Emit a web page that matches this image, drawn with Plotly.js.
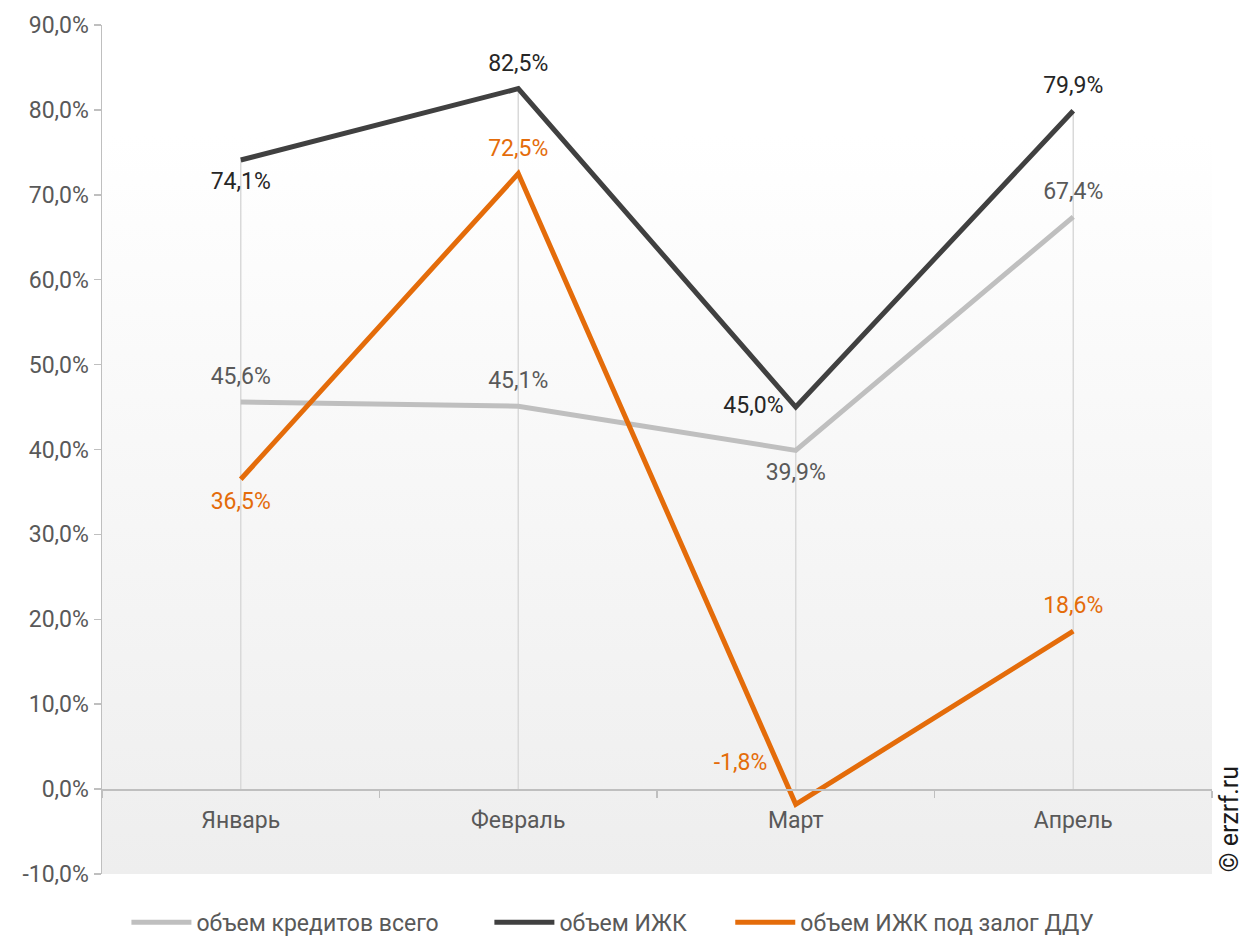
<!DOCTYPE html>
<html>
<head>
<meta charset="utf-8">
<script src="https://cdn.plot.ly/plotly-3.0.1.min.js"></script>
<style>
html,body{margin:0;padding:0;background:#fff;}
#chart{width:1248px;height:938px;}
</style>
</head>
<body>
<div id="chart"></div>
<script>
// ---- data ----
const months = ["Январь", "Февраль", "Март", "Апрель"];
const seriesNames = ["объем кредитов всего", "объем ИЖК", "объем ИЖК под залог ДДУ"];
const totalLoans = [45.6, 45.1, 39.9, 67.4];
const izhk = [74.1, 82.5, 45.0, 79.9];
const izhkDdu = [36.5, 72.5, -1.8, 18.6];
const yTickVals = [-10, 0, 10, 20, 30, 40, 50, 60, 70, 80, 90];

const fmt = v => v.toFixed(1).replace(".", ",") + "%";
const yTickText = yTickVals.map(fmt);

// label positions per point (style, not data)
const posTotal = ["top center", "top center", "bottom center", "top center"];
const posIzhk = ["bottom center", "top center", "middle left", "top center"];
const posDdu = ["bottom center", "top center", "top left", "top center"];

// drop lines from highest value of each month down to the axis
const dropX = [], dropY = [];
months.forEach((m, i) => {
  const mx = Math.max(totalLoans[i], izhk[i], izhkDdu[i]);
  dropX.push(m, m, null);
  dropY.push(mx, 0, null);
});

const grad = 'data:image/svg+xml;utf8,' + encodeURIComponent(
  '<svg xmlns="http://www.w3.org/2000/svg" width="100" height="100" preserveAspectRatio="none">' +
  '<defs><linearGradient id="g" x1="0" y1="0" x2="0" y2="1">' +
  '<stop offset="0" stop-color="#ffffff"/><stop offset="0.13" stop-color="#ffffff"/>' +
  '<stop offset="1" stop-color="#eeeeee"/></linearGradient></defs>' +
  '<rect width="100" height="100" fill="url(#g)"/></svg>');

function lineTrace(name, y, color, labelColor, pos, msize) {
  return {
    type: "scatter",
    mode: "lines+markers+text",
    name: name,
    x: months,
    y: y,
    text: y.map(fmt),
    line: {color: color, width: 5},
    marker: {size: msize, opacity: 0, color: color},
    texttemplate: "%{text}",
    textposition: pos,
    textfont: {family: "Roboto", size: 23, color: labelColor},
    cliponaxis: false,
    showlegend: false,
    hoverinfo: "skip"
  };
}
function legendTrace(name, color, legendId) {
  return {
    type: "scatter", mode: "lines", name: name, x: [months[0]], y: [null],
    line: {color: color, width: 5}, showlegend: true, legend: legendId, hoverinfo: "skip"
  };
}

const colors = ["#bfbfbf", "#404040", "#e46c0a"];
const data = [
  {
    type: "scatter", mode: "lines", x: dropX, y: dropY,
    line: {color: "#d9d9d9", width: 1.5}, showlegend: false, hoverinfo: "skip"
  },
  lineTrace(seriesNames[0], totalLoans, colors[0], "#595959", posTotal, 18),
  lineTrace(seriesNames[1], izhk, colors[1], "#262626", posIzhk, 18),
  lineTrace(seriesNames[2], izhkDdu, colors[2], "#e46c0a", posDdu, [18, 18, 44, 18]),
  legendTrace(seriesNames[0], colors[0], "legend"),
  legendTrace(seriesNames[1], colors[1], "legend2"),
  legendTrace(seriesNames[2], colors[2], "legend3")
];

function legendAt(xFrac) {
  return {
    orientation: "h", x: xFrac, xanchor: "left", y: -0.057, yanchor: "middle",
    font: {family: "Roboto", size: 23, color: "#595959"},
    itemwidth: 60, bgcolor: "rgba(0,0,0,0)"
  };
}

const layout = {
  width: 1248, height: 938,
  margin: {l: 102, r: 36, t: 25, b: 64, autoexpand: false},
  paper_bgcolor: "#ffffff",
  plot_bgcolor: "rgba(0,0,0,0)",
  font: {family: "Roboto", size: 23, color: "#595959"},
  images: [{
    source: grad, xref: "paper", yref: "paper", x: 0, y: 1,
    sizex: 1, sizey: 1, sizing: "stretch", xanchor: "left", yanchor: "top", layer: "below"
  }],
  xaxis: {
    type: "category", range: [-0.5, 3.5],
    anchor: "free", position: 0.1,
    showline: true, linecolor: "#bfbfbf", linewidth: 1.5,
    ticks: "outside", tickson: "boundaries", ticklen: 7, tickcolor: "#bfbfbf", tickwidth: 1.5,
    showgrid: false, zeroline: false,
    tickfont: {family: "Roboto", size: 23, color: "#595959"},
    ticklabelstandoff: 10
  },
  yaxis: {
    range: [-10, 90], tickmode: "array", tickvals: yTickVals, ticktext: yTickText,
    showline: true, linecolor: "#bfbfbf", linewidth: 1.5,
    ticks: "outside", ticklen: 7, tickcolor: "#bfbfbf", tickwidth: 1.5,
    showgrid: false, zeroline: false,
    tickfont: {family: "Roboto", size: 23, color: "#595959"}
  },
  showlegend: true,
  legend: legendAt(0.022),
  legend2: legendAt(0.349),
  legend3: legendAt(0.566),
  annotations: [{
    text: "© erzrf.ru", xref: "paper", yref: "paper", x: 1, y: 0.064,
    xanchor: "left", yanchor: "middle", xshift: 1, textangle: -90, showarrow: false,
    font: {family: "Roboto", size: 25, color: "#1a1a1a"}
  }]
};

Plotly.newPlot("chart", data, layout, {displayModeBar: false, staticPlot: true});
</script>
</body>
</html>
